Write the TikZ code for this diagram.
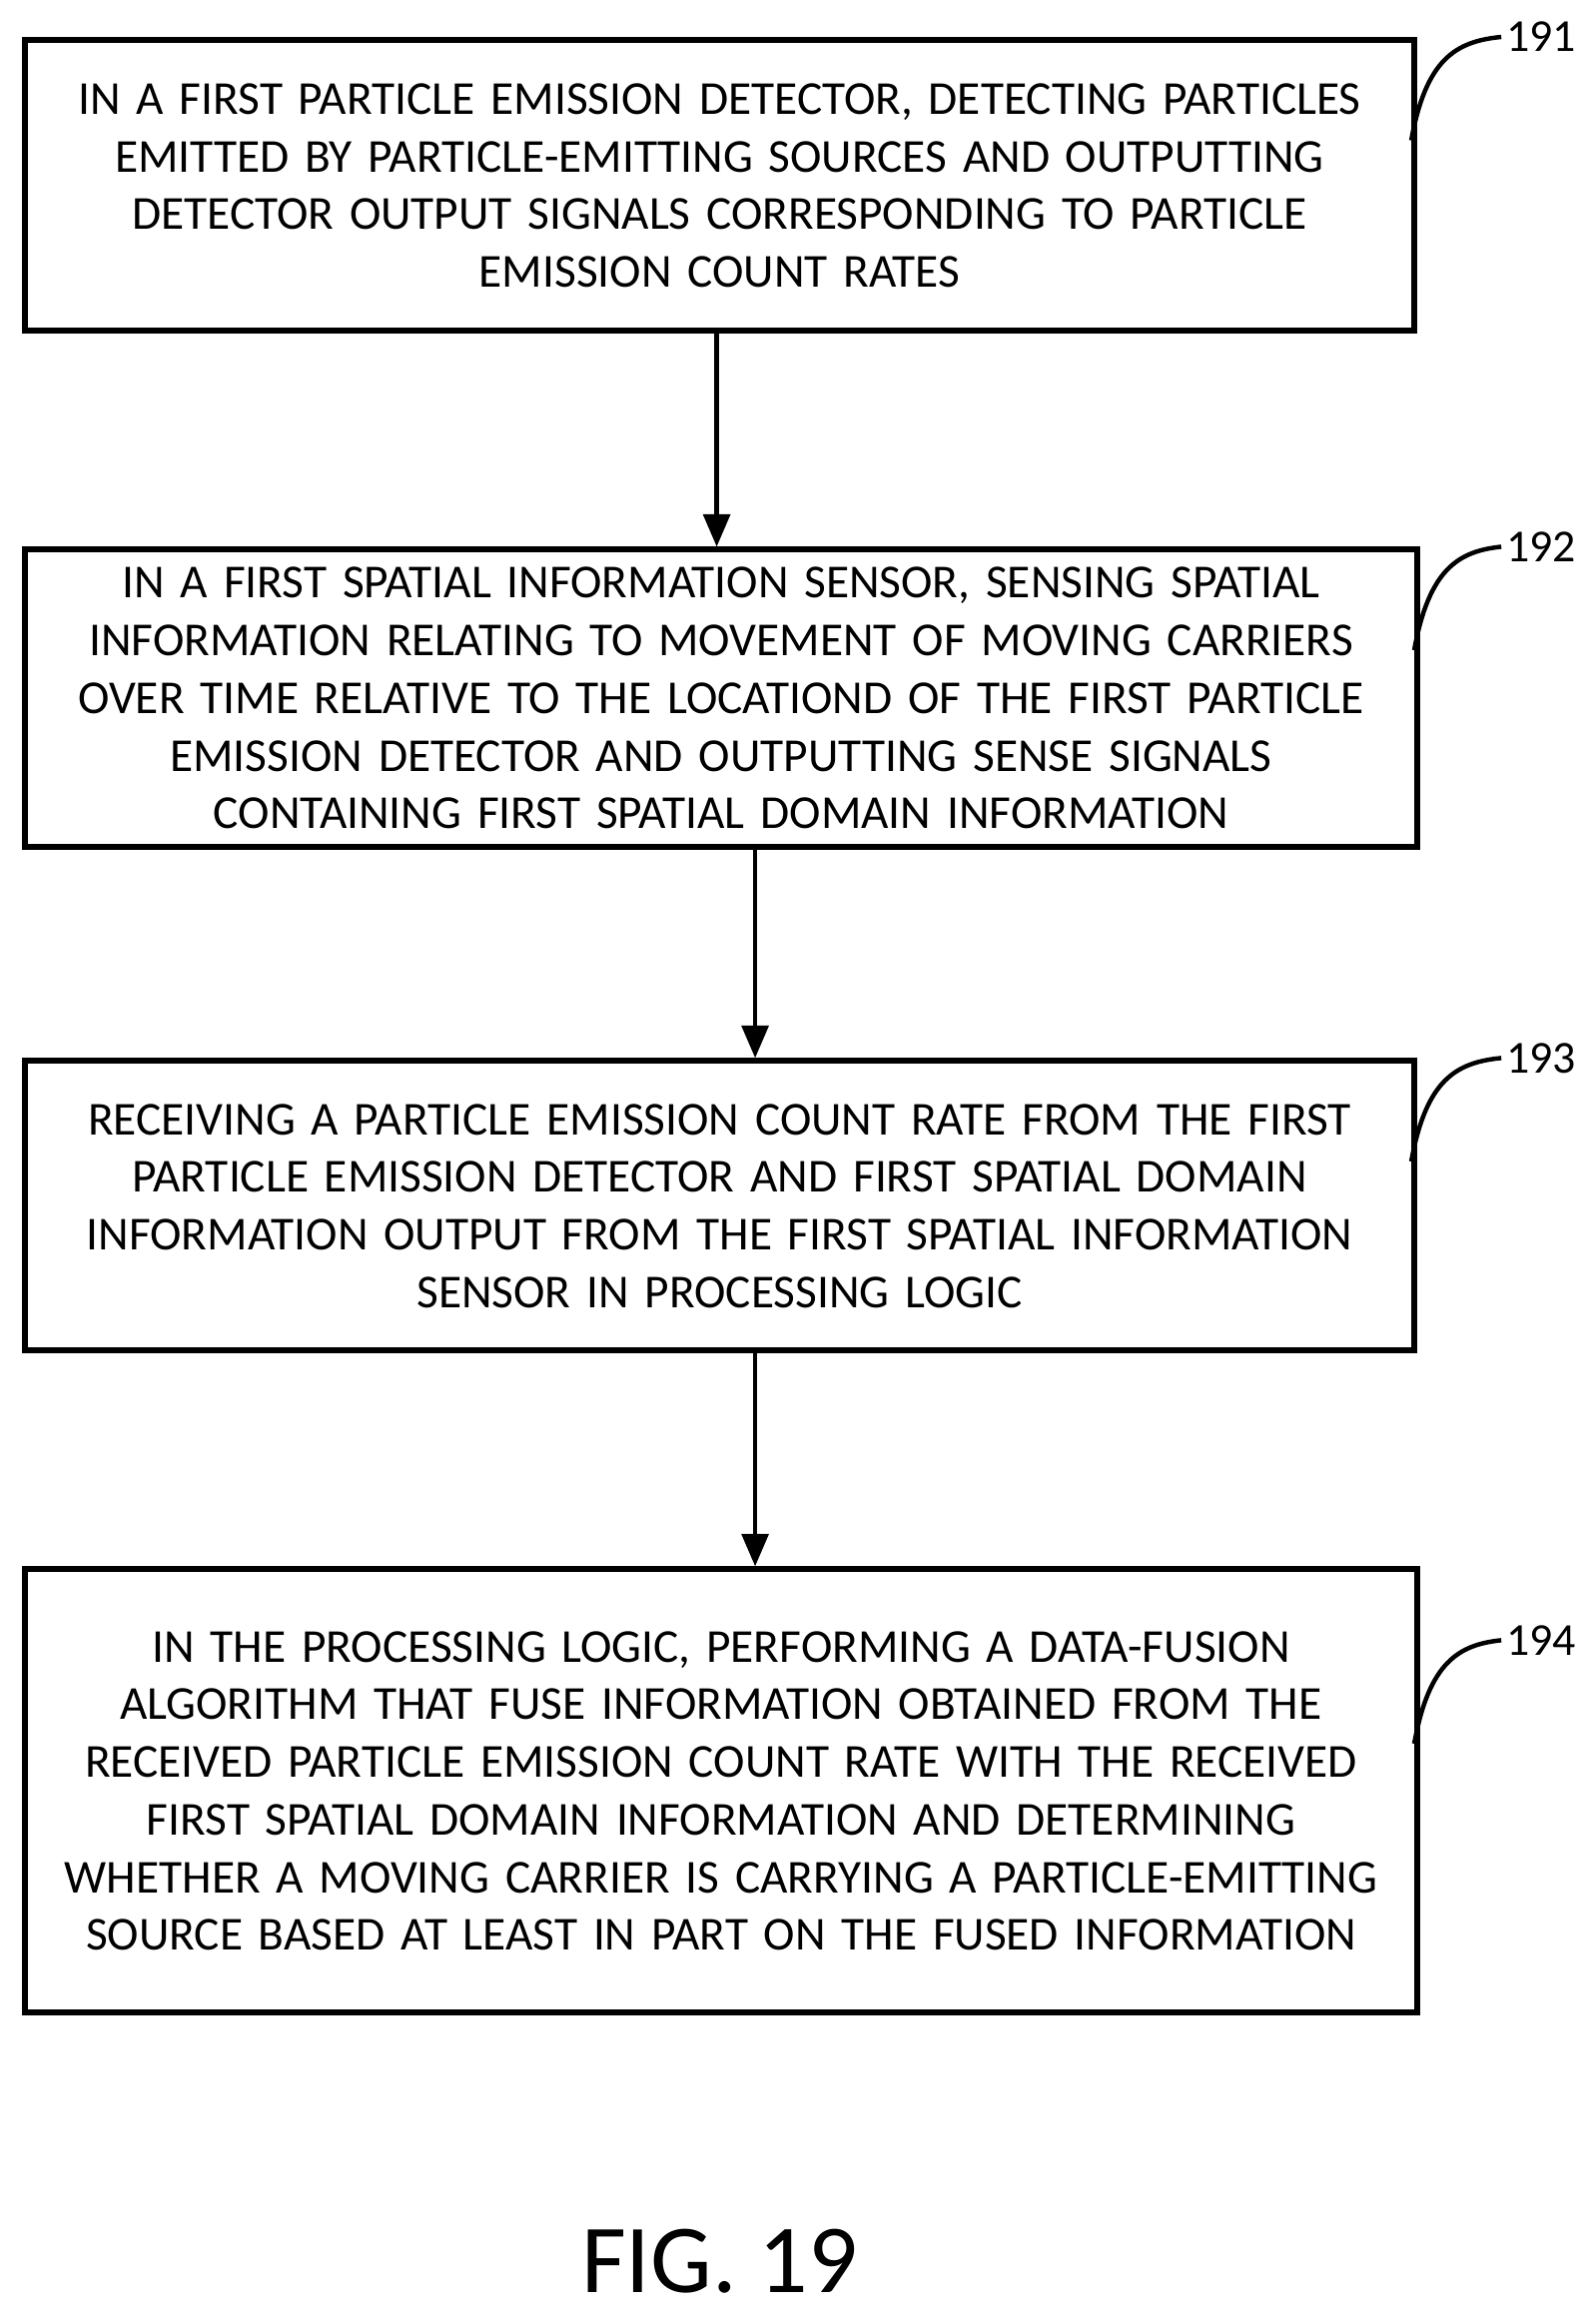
\documentclass[tikz,border=0pt]{standalone}
\usepackage{fontspec}
\setmainfont{Carlito}
\usetikzlibrary{arrows.meta}
\begin{document}
\begin{tikzpicture}[x=1pt,y=-1pt,
  box/.style={draw,line width=4pt,minimum width=940pt,anchor=north west,inner sep=0pt,
    font=\fontsize{32}{39}\selectfont,align=center,text width=935pt},
  arr/.style={line width=3pt,-{Triangle[length=22pt,width=18pt]}},
  lead/.style={line width=3pt},
  lab/.style={font=\fontsize{31}{34}\selectfont}]
\useasboundingbox (0,0) rectangle (1080,1568);
\node[box,minimum height=197pt] (b1) at (15,25) {IN A FIRST PARTICLE EMISSION DETECTOR, DETECTING PARTICLES\\EMITTED BY PARTICLE-EMITTING SOURCES AND OUTPUTTING\\DETECTOR OUTPUT SIGNALS CORRESPONDING TO PARTICLE\\EMISSION COUNT RATES};
\node[box,minimum height=201pt,minimum width=942pt] (b2) at (15,370) {IN A FIRST SPATIAL INFORMATION SENSOR, SENSING SPATIAL\\INFORMATION RELATING TO MOVEMENT OF MOVING CARRIERS\\OVER TIME RELATIVE TO THE LOCATIOND OF THE FIRST PARTICLE\\EMISSION DETECTOR AND OUTPUTTING SENSE SIGNALS\\CONTAINING FIRST SPATIAL DOMAIN INFORMATION};
\node[box,minimum height=196pt] (b3) at (15,716) {RECEIVING A PARTICLE EMISSION COUNT RATE FROM THE FIRST\\PARTICLE EMISSION DETECTOR AND FIRST SPATIAL DOMAIN\\INFORMATION OUTPUT FROM THE FIRST SPATIAL INFORMATION\\SENSOR IN PROCESSING LOGIC};
\node[box,minimum height=300pt,minimum width=942pt] (b4) at (15,1060) {IN THE PROCESSING LOGIC, PERFORMING A DATA-FUSION\\ALGORITHM THAT FUSE INFORMATION OBTAINED FROM THE\\RECEIVED PARTICLE EMISSION COUNT RATE WITH THE RECEIVED\\FIRST SPATIAL DOMAIN INFORMATION AND DETERMINING\\WHETHER A MOVING CARRIER IS CARRYING A PARTICLE-EMITTING\\SOURCE BASED AT LEAST IN PART ON THE FUSED INFORMATION};
\draw[arr] (b1.south -| 485,0) -- (b2.north -| 485,0);
\draw[arr] (b2.south -| 511,0) -- (b3.north -| 511,0);
\draw[arr] (b3.south -| 511,0) -- (b4.north -| 511,0);
\node[lab] (l1) at (1043,25) {191};
\node[lab] (l2) at (1043,370) {192};
\node[lab] (l3) at (1043,716) {193};
\node[lab] (l4) at (1043,1110) {194};
\draw[lead] (955,95) .. controls (965,40) and (985,28) .. (l1.west);
\draw[lead] (957,440) .. controls (967,385) and (987,373) .. (l2.west);
\draw[lead] (955,786) .. controls (965,731) and (985,719) .. (l3.west);
\draw[lead] (957,1180) .. controls (967,1125) and (987,1113) .. (l4.west);
\node[font=\fontsize{66}{70}\selectfont] (fig) at (487,1530) {FIG. 19};
\end{tikzpicture}
\end{document}
